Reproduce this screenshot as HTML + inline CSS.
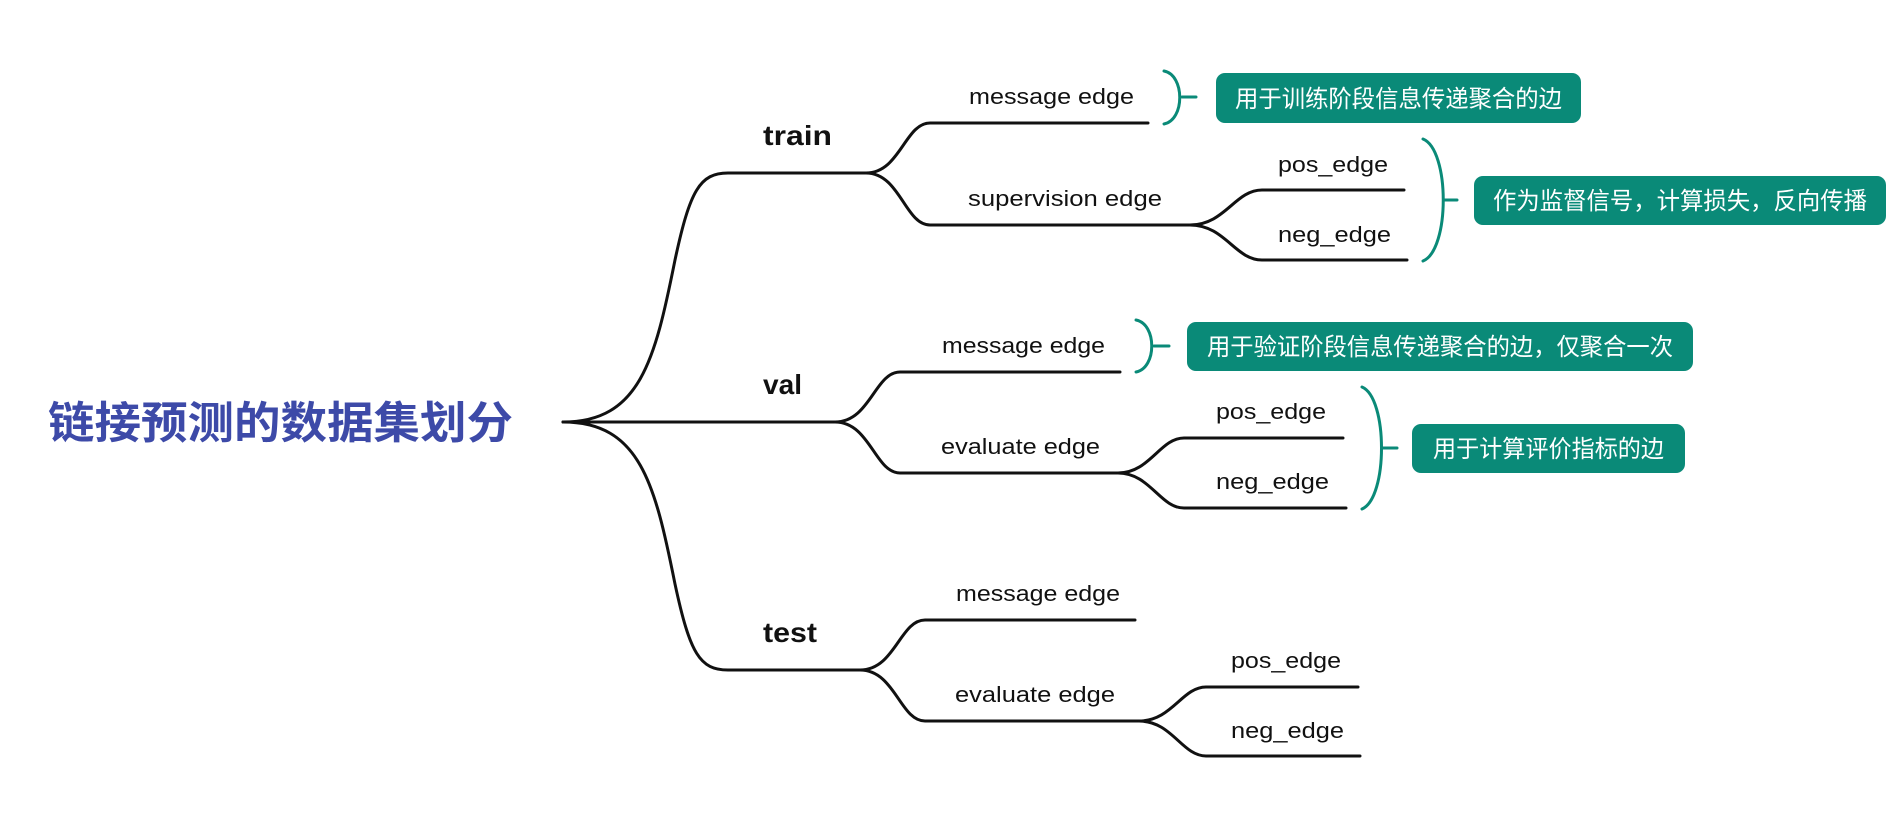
<!DOCTYPE html>
<html><head><meta charset="utf-8"><style>
html,body{margin:0;padding:0;background:#fff;}
svg{display:block;}
text{font-family:"Liberation Sans","Noto Sans CJK SC",sans-serif;}
</style></head><body>
<svg width="1894" height="815" viewBox="0 0 1894 815" xmlns="http://www.w3.org/2000/svg">
<g fill="none" stroke="#111" stroke-width="3" stroke-linecap="round">
<!-- root to level1 -->
<path d="M563,422 C640,422 655,360 675,260 C690,190 700,173 728,173 L870,173"/>
<path d="M563,422 L839,422"/>
<path d="M563,422 C640,422 655,484 675,584 C690,654 700,670 728,670 L864,670"/>
<!-- train -->
<path d="M866,173 C900,173 905,123 930,123 L1148,123"/>
<path d="M866,173 C900,173 905,225 930,225 L1195,225"/>
<path d="M1190,225 C1225,225 1235,190 1262,190 L1404,190"/>
<path d="M1190,225 C1225,225 1235,260 1262,260 L1407,260"/>
<!-- val -->
<path d="M835,422 C870,422 875,372 900,372 L1120,372"/>
<path d="M835,422 C870,422 875,473 900,473 L1122,473"/>
<path d="M1118,473 C1150,473 1160,438 1184,438 L1343,438"/>
<path d="M1118,473 C1150,473 1160,508 1184,508 L1346,508"/>
<!-- test -->
<path d="M860,670 C895,670 900,620 925,620 L1135,620"/>
<path d="M860,670 C895,670 900,721 925,721 L1143,721"/>
<path d="M1139,721 C1172,721 1182,687 1206,687 L1358,687"/>
<path d="M1139,721 C1172,721 1182,756 1206,756 L1360,756"/>
</g>
<g fill="none" stroke="#0a8a78" stroke-width="3" stroke-linecap="round">
<path d="M1164,71 C1185,75 1185,120 1164,124"/><path d="M1182,97 L1196,97"/>
<path d="M1423,139 C1450,150 1450,250 1423,261"/><path d="M1444,200 L1457,200"/>
<path d="M1136,320 C1157,324 1157,368 1136,372"/><path d="M1154,346 L1169,346"/>
<path d="M1362,387 C1388,398 1388,498 1362,509"/><path d="M1383,448 L1397,448"/>
</g>
<g fill="#0a8a78">
<rect x="1216" y="73" width="365" height="50" rx="9"/>
<rect x="1474" y="176" width="412" height="49" rx="9"/>
<rect x="1187" y="322" width="506" height="49" rx="9"/>
<rect x="1412" y="424" width="273" height="49" rx="9"/>
</g>
<g fill="#fff" font-size="24">
<text x="1235" y="107" textLength="327" lengthAdjust="spacingAndGlyphs">用于训练阶段信息传递聚合的边</text>
<text x="1493" y="209" textLength="374" lengthAdjust="spacingAndGlyphs">作为监督信号，计算损失，反向传播</text>
<text x="1207" y="355" textLength="466" lengthAdjust="spacingAndGlyphs">用于验证阶段信息传递聚合的边，仅聚合一次</text>
<text x="1433" y="457" textLength="231" lengthAdjust="spacingAndGlyphs">用于计算评价指标的边</text>
</g>
<text x="48" y="438" font-size="44" font-weight="bold" fill="#3d4aa8" textLength="465" lengthAdjust="spacingAndGlyphs">链接预测的数据集划分</text>
<g font-size="28" font-weight="bold" fill="#111">
<text x="763" y="145" textLength="69" lengthAdjust="spacingAndGlyphs">train</text>
<text x="763" y="394" textLength="39" lengthAdjust="spacingAndGlyphs">val</text>
<text x="763" y="642" textLength="54" lengthAdjust="spacingAndGlyphs">test</text>
</g>
<g font-size="22" fill="#111" lengthAdjust="spacingAndGlyphs">
<text x="969" y="104" textLength="165" lengthAdjust="spacingAndGlyphs">message edge</text>
<text x="968" y="206" textLength="194" lengthAdjust="spacingAndGlyphs">supervision edge</text>
<text x="1278" y="172" textLength="110" lengthAdjust="spacingAndGlyphs">pos_edge</text>
<text x="1278" y="242" textLength="113" lengthAdjust="spacingAndGlyphs">neg_edge</text>
<text x="942" y="353" textLength="163" lengthAdjust="spacingAndGlyphs">message edge</text>
<text x="941" y="454" textLength="159" lengthAdjust="spacingAndGlyphs">evaluate edge</text>
<text x="1216" y="419" textLength="110" lengthAdjust="spacingAndGlyphs">pos_edge</text>
<text x="1216" y="489" textLength="113" lengthAdjust="spacingAndGlyphs">neg_edge</text>
<text x="956" y="601" textLength="164" lengthAdjust="spacingAndGlyphs">message edge</text>
<text x="955" y="702" textLength="160" lengthAdjust="spacingAndGlyphs">evaluate edge</text>
<text x="1231" y="668" textLength="110" lengthAdjust="spacingAndGlyphs">pos_edge</text>
<text x="1231" y="738" textLength="113" lengthAdjust="spacingAndGlyphs">neg_edge</text>
</g>
</svg>
</body></html>
